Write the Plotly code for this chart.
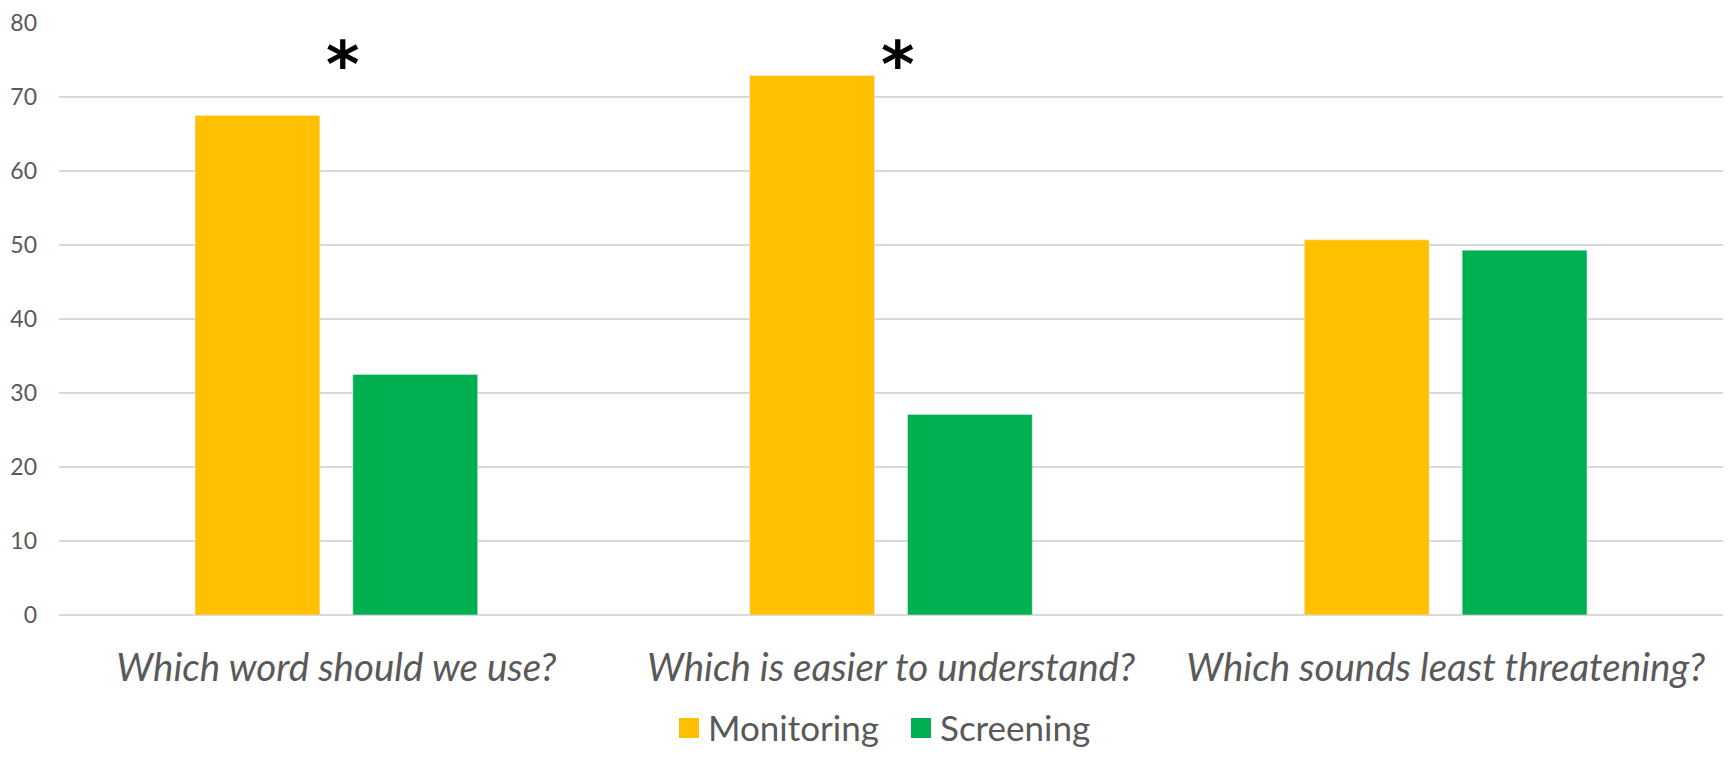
import plotly.graph_objects as go

categories = ["Which word should we use?", "Which is easier to understand?", "Which sounds least threatening?"]
monitoring = [67.5, 72.9, 50.7]
screening = [32.5, 27.1, 49.3]
significant = [True, True, False]
y_ticks = [0, 10, 20, 30, 40, 50, 60, 70, 80]
series_names = ["Monitoring", "Screening"]
series_colors = ["#FFC000", "#00B050"]

FONT = "Lato"
GRAY = "#595959"
# page body has an 8px margin, so the figure is sized to fit inside the window
W, H = 1715, 741
L, R, T, B = 51, 0, 15, 134
PW = W - L - R
PH = H - T - B

fig = go.Figure()
for name, vals, col in zip(series_names, [monitoring, screening], series_colors):
    fig.add_trace(go.Bar(name=name, x=categories, y=vals, marker_color=col, showlegend=False))

for cat, sig in zip(categories, significant):
    if sig:
        fig.add_annotation(x=cat, y=80, yref="y", text="<b>*</b>", showarrow=False,
                           xshift=6, yshift=-42, font=dict(family="DejaVu Sans", size=64, color="black"))

# custom legend (swatch + label), pixel positions within the figure
def px_to_paper_x(px):
    return (px - L) / PW

def py_to_paper_y(py):
    return (T + PH - py) / PH

leg_items = [(671, series_names[0], series_colors[0]), (903, series_names[1], series_colors[1])]
for px, name, col in leg_items:
    fig.add_shape(type="rect", xref="paper", yref="paper",
                  x0=px_to_paper_x(px), x1=px_to_paper_x(px + 20),
                  y0=py_to_paper_y(730), y1=py_to_paper_y(710),
                  fillcolor=col, line_width=0)
    fig.add_annotation(xref="paper", yref="paper", x=px_to_paper_x(px + 27), y=py_to_paper_y(719),
                       xanchor="left", yanchor="middle", text=name, showarrow=False,
                       font=dict(family=FONT, size=35, color=GRAY))

fig.update_layout(
    width=W, height=H,
    margin=dict(l=L, r=R, t=T, b=B, autoexpand=False),
    paper_bgcolor="white", plot_bgcolor="white",
    barmode="group", bargap=0.431, bargroupgap=0.209,
    font=dict(family=FONT, color=GRAY),
    showlegend=False,
)
fig.update_yaxes(range=[0, 80], tickvals=y_ticks, showgrid=True, gridcolor="#D9D9D9", gridwidth=1.5,
                 zeroline=True, zerolinecolor="#D9D9D9", zerolinewidth=1.5, showline=False,
                 tickfont=dict(family=FONT, size=23, color=GRAY), ticklabelstandoff=21,
                 ticklabeloverflow="allow", automargin=False)
fig.update_xaxes(showline=False, showgrid=False, automargin=False,
                 tickfont=dict(family=FONT, size=38.5, color=GRAY, style="italic"), ticklabelstandoff=26)

fig.write_html("out.html")
